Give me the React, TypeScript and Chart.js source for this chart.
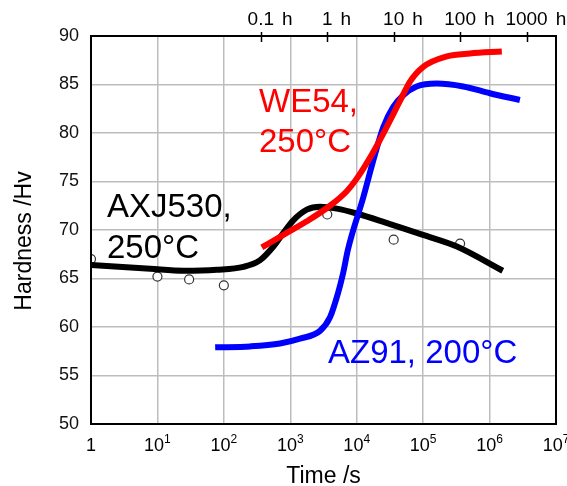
import React, { useEffect, useRef } from "react";
import { Chart, registerables } from "chart.js";

Chart.register(...registerables);

const FONT = '"Liberation Sans", Arial, Helvetica, sans-serif';

// Bottom axis: decades of seconds
const xDecades = [1, 10, 100, 1e3, 1e4, 1e5, 1e6, 1e7];
const xExponents = ["", "1", "2", "3", "4", "5", "6", "7"];

// Top axis: the same times expressed in hours
const hourTicks = [360, 3600, 36000, 360000, 3600000];
const hourLabels = ["0.1", "1", "10", "100", "1000"];

// AXJ530, 250°C — fitted curve
const axjTime = [1, 7.8, 25, 78, 197, 352, 557, 787, 1110, 1770, 2800, 5000, 10000, 31700, 99300, 322000, 1580000];
const axjHardness = [66.4, 66.0, 65.8, 65.9, 66.2, 66.9, 68.3, 69.7, 71.0, 72.1, 72.4, 72.2, 71.7, 70.6, 69.5, 68.3, 65.8];

// AXJ530, 250°C — measured points
const axjPointTime = [1, 10, 30, 100, 3600, 36000, 360000];
const axjPointHardness = [67.0, 65.2, 64.9, 64.3, 71.6, 69.0, 68.6];

// WE54, 250°C
const weTime = [373, 787, 1770, 3960, 7080, 10000, 17600, 28200, 44800, 63400, 99300, 228000, 506000, 1530000];
const weHardness = [68.2, 69.5, 70.9, 72.5, 74.0, 75.3, 78.0, 80.6, 83.3, 85.3, 86.8, 87.9, 88.2, 88.4];

// AZ91, 200°C
const azTime = [74, 250, 700, 1400, 2800, 3960, 5230, 6220, 7390, 12600, 17800, 25100, 35500, 50200, 79800, 160000, 401000, 1010000, 2860000];
const azHardness = [57.9, 58.0, 58.3, 58.8, 59.6, 61.0, 63.5, 65.5, 68.0, 73.4, 77.2, 80.6, 82.7, 83.9, 84.8, 85.1, 84.8, 84.1, 83.4];

const toPoints = (xs: number[], ys: number[]) => xs.map((x, i) => ({ x, y: ys[i] }));

const decorations = {
  id: "decorations",
  afterDatasetsDraw(chart: any) {
    const { ctx, chartArea: a, scales } = chart;
    const xs = scales.x;
    const xt = scales.xTop;
    ctx.save();

    // plot frame
    ctx.strokeStyle = "#000";
    ctx.lineWidth = 2;
    ctx.strokeRect(a.left, a.top, a.right - a.left, a.bottom - a.top);

    // top hour ticks crossing the frame
    ctx.lineWidth = 1.5;
    hourTicks.forEach((v) => {
      const px = Math.round(xt.getPixelForValue(v)) + 0.5;
      ctx.beginPath();
      ctx.moveTo(px, a.top - 4);
      ctx.lineTo(px, a.top + 6);
      ctx.stroke();
    });

    // top hour labels: number centred on the tick, unit after it
    ctx.fillStyle = "#000";
    ctx.textBaseline = "alphabetic";
    ctx.font = `19px ${FONT}`;
    hourTicks.forEach((v, i) => {
      const px = xt.getPixelForValue(v);
      const w = ctx.measureText(hourLabels[i]).width;
      ctx.textAlign = "center";
      ctx.fillText(hourLabels[i], px, 25);
      ctx.textAlign = "left";
      ctx.fillText("h", px + w / 2 + 8, 25);
    });

    // bottom decade labels with superscript exponents
    xDecades.forEach((v, i) => {
      const px = xs.getPixelForValue(v);
      const base = i === 0 ? "1" : "10";
      const exp = xExponents[i];
      ctx.font = `18px ${FONT}`;
      const wb = ctx.measureText(base).width;
      ctx.font = `12px ${FONT}`;
      const we = exp ? ctx.measureText(exp).width : 0;
      const left = px - (wb + we) / 2;
      ctx.textAlign = "left";
      ctx.font = `18px ${FONT}`;
      ctx.fillText(base, left, 451);
      if (exp) {
        ctx.font = `12px ${FONT}`;
        ctx.fillText(exp, left + wb, 443);
      }
    });

    // axis titles
    ctx.font = `23px ${FONT}`;
    ctx.textAlign = "center";
    ctx.fillText("Time /s", (a.left + a.right) / 2, 483);
    ctx.save();
    ctx.translate(31, 241);
    ctx.rotate(-Math.PI / 2);
    ctx.fillText("Hardness /Hv", 0, 0);
    ctx.restore();

    // series captions
    ctx.font = `33px ${FONT}`;
    ctx.textAlign = "left";
    ctx.fillStyle = "#ff0000";
    ctx.fillText("WE54,", 259, 112);
    ctx.fillText("250°C", 259, 152);
    ctx.fillStyle = "#000";
    ctx.fillText("AXJ530,", 107, 217);
    ctx.fillText("250°C", 107, 258);
    ctx.fillStyle = "#0000ff";
    ctx.fillText("AZ91, 200°C", 328, 363);

    ctx.restore();
  },
};

export default function App() {
  const canvasRef = useRef<HTMLCanvasElement | null>(null);

  useEffect(() => {
    const canvas = canvasRef.current;
    if (!canvas) return;
    const chart = new Chart(canvas, {
      type: "line",
      data: {
        datasets: [
          {
            label: "AXJ530 measured",
            data: toPoints(axjPointTime, axjPointHardness),
            showLine: false,
            pointRadius: 4.5,
            pointBackgroundColor: "#ffffff",
            pointBorderColor: "#333333",
            pointBorderWidth: 1.2,
            order: 3,
          },
          {
            label: "AXJ530, 250°C",
            data: toPoints(axjTime, axjHardness),
            borderColor: "#000000",
            borderWidth: 6,
            pointRadius: 0,
            cubicInterpolationMode: "monotone",
            fill: false,
            order: 2,
          },
          {
            label: "AZ91, 200°C",
            data: toPoints(azTime, azHardness),
            borderColor: "#0000ff",
            borderWidth: 6,
            pointRadius: 0,
            cubicInterpolationMode: "monotone",
            fill: false,
            order: 1,
          },
          {
            label: "WE54, 250°C",
            data: toPoints(weTime, weHardness),
            borderColor: "#ff0000",
            borderWidth: 6,
            pointRadius: 0,
            cubicInterpolationMode: "monotone",
            fill: false,
            order: 0,
          },
        ],
      },
      options: {
        responsive: false,
        animation: false,
        devicePixelRatio: 1,
        layout: { padding: { left: 0, right: 11, top: 0, bottom: 0 } },
        plugins: {
          legend: { display: false },
          tooltip: { enabled: false },
        },
        scales: {
          x: {
            type: "logarithmic",
            position: "bottom",
            min: 1,
            max: 1e7,
            afterBuildTicks: (s: any) => {
              s.ticks = xDecades.map((v) => ({ value: v, major: true }));
            },
            afterFit: (s: any) => {
              s.height = 62;
            },
            ticks: { display: false },
            grid: { color: "#bdbdbd", lineWidth: 1.5, drawTicks: false },
            border: { display: false },
          },
          xTop: {
            type: "logarithmic",
            position: "top",
            min: 1,
            max: 1e7,
            afterBuildTicks: (s: any) => {
              s.ticks = hourTicks.map((v) => ({ value: v }));
            },
            afterFit: (s: any) => {
              s.height = 36;
            },
            ticks: { display: false },
            grid: { display: false },
            border: { display: false },
          },
          y: {
            type: "linear",
            min: 50,
            max: 90,
            afterFit: (s: any) => {
              s.width = 91;
            },
            ticks: {
              stepSize: 5,
              padding: 12,
              color: "#111",
              font: { family: FONT, size: 18 },
            },
            grid: { color: "#bdbdbd", lineWidth: 1.5, drawTicks: false },
            border: { display: false },
          },
        },
      },
      plugins: [decorations],
    });
    return () => chart.destroy();
  }, []);

  return (
    <div style={{ position: "fixed", left: 0, top: 0, width: 567, height: 486, background: "#fff" }}>
      <canvas ref={canvasRef} width={567} height={486} />
    </div>
  );
}
